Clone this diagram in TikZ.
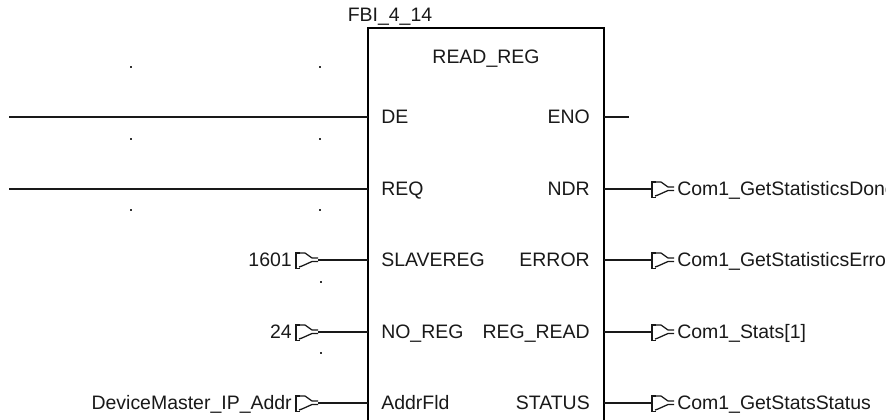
\documentclass[tikz,border=0pt]{standalone}
\usepackage{fontspec}
\setmainfont{Liberation Sans}
\tikzset{
  x=0.75pt,y=-0.75pt,
  wire/.style={line width=1.1pt,black!90},
  lbl/.style={font=\fontsize{14.6pt}{17pt}\selectfont,inner sep=0pt,text=black!90,text height=10.5pt,text depth=0pt},
  blockbox/.style={draw,line width=1.3pt,black,rectangle,minimum width=177pt,minimum height=315pt,inner sep=0pt,outer sep=0pt},
  symb/.style={line width=0.95pt,black!90},
  tick/.style={fill=black!80,inner sep=0pt,minimum size=1.5pt,rectangle}
}
\newcommand{\connsym}[2]{%
  \draw[symb] (#1+4,#2-7) -- (#1,#2-7) -- (#1,#2+8.5) -- (#1+4,#2+8.5);
  \draw[symb] (#1,#2-7) -- (#1+9,#2-7) -- (#1+16,#2-2) -- (#1+22,#2-2);
  \draw[symb] (#1+3,#2+7) -- (#1+6,#2+6) -- (#1+16,#2+1.5) -- (#1+22,#2+1.5);
}
\begin{document}
\begin{tikzpicture}
\useasboundingbox (0,0) rectangle (886,420);
\clip (0,0) rectangle (886,420);
\node[blockbox,anchor=north west] (fb) at (368,28) {};
\node[lbl] (inst) at (390,15) {FBI\_4\_14};
\node[lbl] (title) at (486,57) {READ\_REG};
% ticks
\foreach \n/\x/\y in {a/131/67,b/320/67,c/131/139,d/320/139,e/131/210,f/320/210,g/321/282,h/321/353}
  \node[tick] (t\n) at (\x,\y) {};
% pins
\foreach \n/\t/\y in {de/DE/117,req/REQ/189,slave/SLAVEREG/260,noreg/NO\_REG/332,addr/AddrFld/403}{
  \node[lbl,anchor=west] (p\n) at (381,\y) {\t};
  \coordinate (w\n) at (368,\y);
}
\foreach \n/\t/\y in {eno/ENO/117,ndr/NDR/189,err/ERROR/260,read/REG\_READ/332,stat/STATUS/403}{
  \node[lbl,anchor=east] (p\n) at (590,\y) {\t};
  \coordinate (w\n) at (604,\y);
}
% left wires
\coordinate (s1) at (9,117);
\coordinate (s2) at (9,189);
\draw[wire] (s1) -- (wde);
\draw[wire] (s2) -- (wreq);
\foreach \n/\t/\y in {slave/1601/260,noreg/24/332,addr/DeviceMaster\_IP\_Addr/403}{
  \coordinate (c\n) at (318,\y);
  \draw[wire] (c\n) -- (w\n);
  \connsym{296}{\y}
  \node[lbl,anchor=east] (v\n) at (292,\y) {\t};
}
% right wires
\coordinate (e1) at (629,117);
\draw[wire] (weno) -- (e1);
\foreach \n/\t/\y in {ndr/Com1\_GetStatisticsDone/189,err/Com1\_GetStatisticsError/260,read/Com1\_Stats[1]/332,stat/Com1\_GetStatsStatus/403}{
  \coordinate (c\n) at (652,\y);
  \draw[wire] (w\n) -- (c\n);
  \connsym{652}{\y}
  \node[lbl,anchor=west] (v\n) at (677,\y) {\t};
}
\end{tikzpicture}
\end{document}
